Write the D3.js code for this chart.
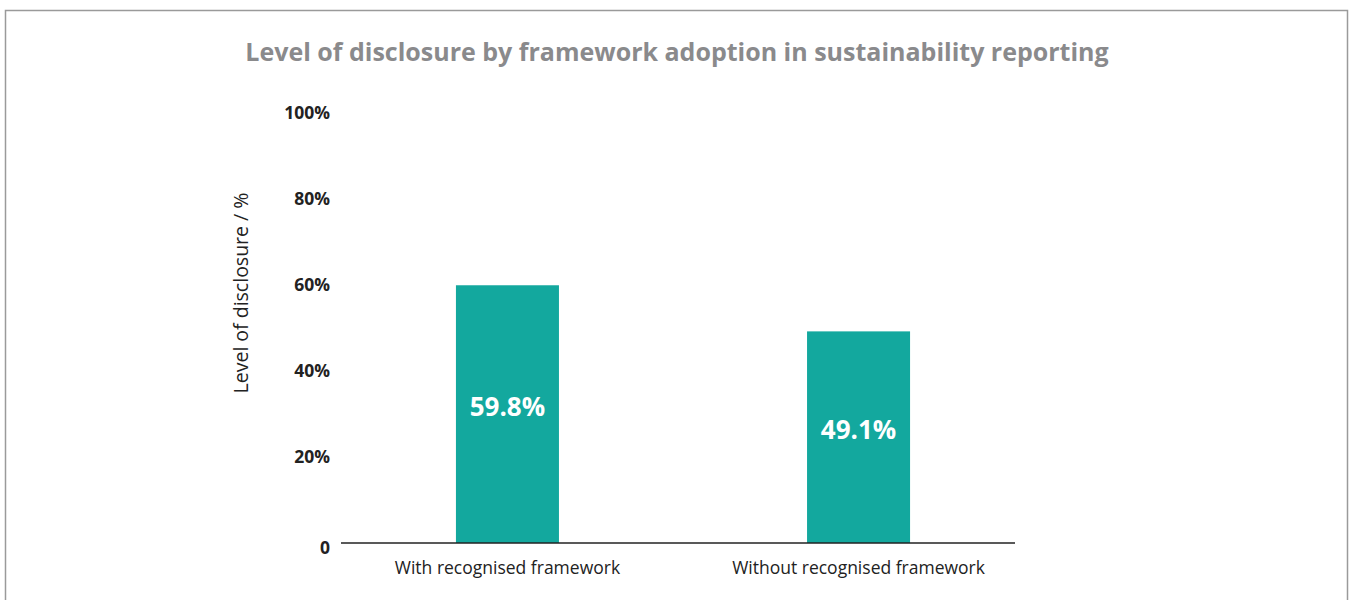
<!DOCTYPE html>
<html>

<head>
    <meta charset="utf-8">
    <style>
        body {
            margin: 0;
            background: #fff;
        }

        svg {
            font-family: 'Open Sans', 'Noto Sans', sans-serif;
        }

        .title {
            font-size: 25px;
            font-weight: bold;
            fill: #8a8a8c;
        }

        .y .tick text {
            font-family: 'Open Sans', 'Noto Sans', sans-serif;
            font-size: 17.5px;
            font-weight: bold;
            fill: #222;
        }

        .y .tick line,
        .y .domain {
            display: none;
        }

        .cat-label {
            font-size: 17.5px;
            fill: #222;
        }

        .axis-title {
            font-size: 19.5px;
            fill: #222;
        }

        .value-label {
            font-size: 26px;
            font-weight: bold;
            fill: #fff;
        }
    </style>
</head>

<body>
    <svg width="1350" height="600"></svg>

    <script src="https://cdnjs.cloudflare.com/ajax/libs/d3/7.8.5/d3.min.js"></script>
    <script>
        let categories = ["With recognised framework", "Without recognised framework"]
        let values = [59.8, 49.1]
        let tickValues = [0, 20, 40, 60, 80, 100]
        let tickLabels = ["0", "20%", "40%", "60%", "80%", "100%"]

        let svg = d3.select("svg")

        // outer frame
        svg.append("rect")
            .attr("x", 5.5)
            .attr("y", 10.5)
            .attr("width", 1342)
            .attr("height", 620)
            .attr("fill", "none")
            .attr("stroke", "#9a9a9a")
            .attr("stroke-width", 1.5)

        svg.append("text")
            .attr("class", "title")
            .attr("x", 677)
            .attr("y", 61)
            .attr("text-anchor", "middle")
            .text("Level of disclosure by framework adoption in sustainability reporting")

        let x = d3.scaleBand()
            .domain(categories)
            .range([332, 1034])
            .paddingInner(0.7066)
            .paddingOuter(0.353)

        let y = d3.scaleLinear()
            .domain([0, 100])
            .range([543, 112])

        let yAxis = svg.append("g")
            .attr("class", "y axis")
            .attr("transform", "translate(330,0)")
            .call(d3.axisLeft(y)
                .tickValues(tickValues)
                .tickFormat((d, i) => tickLabels[i])
                .tickSize(0)
                .tickPadding(0))

        yAxis.selectAll(".tick text")
            .attr("dy", d => d === 0 ? "0.6em" : "0.35em")

        svg.append("text")
            .attr("class", "axis-title")
            .attr("transform", "translate(248,293) rotate(-90)")
            .attr("text-anchor", "middle")
            .text("Level of disclosure / %")

        svg.append("g")
            .selectAll("rect")
            .data(values)
            .join("rect")
            .attr("x", (d, i) => x(categories[i]))
            .attr("y", d => y(d))
            .attr("width", x.bandwidth())
            .attr("height", d => y(0) - y(d))
            .attr("fill", "#13a89e")

        svg.append("g")
            .selectAll("text")
            .data(values)
            .join("text")
            .attr("class", "value-label")
            .attr("x", (d, i) => x(categories[i]) + x.bandwidth() / 2)
            .attr("y", d => (y(d) + y(0)) / 2 - 7)
            .attr("dy", "0.35em")
            .attr("text-anchor", "middle")
            .text(d => d.toFixed(1) + "%")

        // baseline
        svg.append("line")
            .attr("x1", 341)
            .attr("x2", 1015)
            .attr("y1", y(0))
            .attr("y2", y(0))
            .attr("stroke", "#222")
            .attr("stroke-width", 1.5)

        svg.append("g")
            .selectAll("text")
            .data(categories)
            .join("text")
            .attr("class", "cat-label")
            .attr("x", d => x(d) + x.bandwidth() / 2)
            .attr("y", 574)
            .attr("text-anchor", "middle")
            .text(d => d)
    </script>
</body>

</html>
